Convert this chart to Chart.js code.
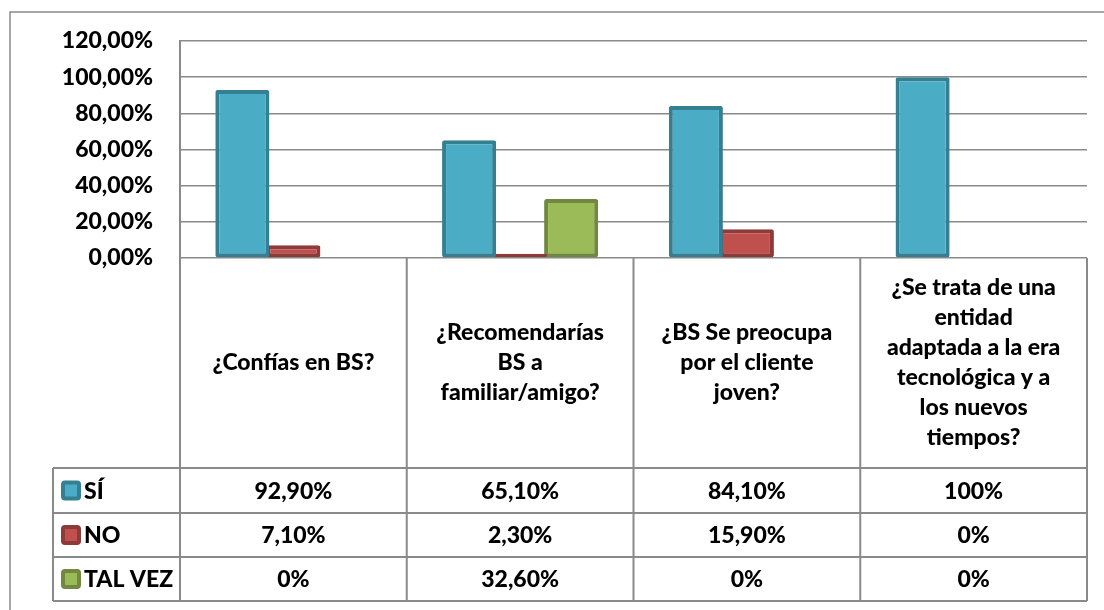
<!DOCTYPE html>
<html lang="es">
<head>
  <meta charset="UTF-8">
  <title>Encuesta BS</title>
  <script src="https://cdn.jsdelivr.net/npm/chart.js"></script>
  <style>
    html, body { margin: 0; padding: 0; background: #fff; }
    #wrap { width: 1104px; height: 610px; position: relative; }
  </style>
</head>
<body>
  <div id="wrap"><canvas id="grafico"></canvas></div>
  <script>
    // preguntas (cada una partida en líneas como en la tabla)
    const preguntas = [
      ['¿Confías en BS?'],
      ['¿Recomendarías', 'BS a', 'familiar/amigo?'],
      ['¿BS Se preocupa', 'por el cliente', 'joven?'],
      ['¿Se trata de una', 'entidad', 'adaptada a la era', 'tecnológica y a', 'los nuevos', 'tiempos?']
    ];
    const series = ['SÍ', 'NO', 'TAL VEZ'];
    const si = [92.9, 65.1, 84.1, 100];
    const no = [7.1, 2.3, 15.9, 0];
    const talVez = [0, 32.6, 0, 0];
    const ticksY = [0, 20, 40, 60, 80, 100, 120];

    const relleno = ['#4BACC6', '#C0504D', '#9BBB59'];
    const borde = ['#357F92', '#8E3A38', '#71893F'];
    const FUENTE = '900 23px Lato';
    const GRIS = '#8a8a8a';

    function fmtEje(v) { return v.toFixed(2).replace('.', ',') + '%'; }
    function fmtTabla(v) {
      return Number.isInteger(v) ? v + '%' : v.toFixed(2).replace('.', ',') + '%';
    }

    // tabla de datos bajo el gráfico, alineada con la escala x
    const tablaDatos = {
      id: 'tablaDatos',
      beforeDraw(chart) {
        const ctx = chart.ctx;
        ctx.save();
        ctx.strokeStyle = GRIS;
        ctx.lineWidth = 1.5;
        ctx.beginPath();
        ctx.moveTo(10, 610); ctx.lineTo(10, 12); ctx.lineTo(1104, 12);
        ctx.stroke();
        ctx.restore();
      },
      afterDraw(chart) {
        const ctx = chart.ctx;
        const x = chart.scales.x;
        const area = chart.chartArea;
        const medio = (x.getPixelForValue(1) - x.getPixelForValue(0)) / 2;
        const filas = [area.bottom, 468, 513, 557, 601];
        const izqLeyenda = 53;
        const datos = [si, no, talVez];

        ctx.save();
        ctx.strokeStyle = GRIS;
        ctx.lineWidth = 2;
        ctx.beginPath();
        // verticales
        ctx.moveTo(area.left, area.bottom); ctx.lineTo(area.left, filas[4]);
        preguntas.forEach((p, i) => {
          const xr = x.getPixelForValue(i) + medio;
          ctx.moveTo(xr, area.bottom); ctx.lineTo(xr, filas[4]);
        });
        ctx.moveTo(izqLeyenda, filas[1]); ctx.lineTo(izqLeyenda, filas[4]);
        // horizontales
        for (let r = 1; r < filas.length; r++) {
          ctx.moveTo(izqLeyenda, filas[r]); ctx.lineTo(area.right, filas[r]);
        }
        ctx.stroke();

        ctx.fillStyle = '#000';
        ctx.font = FUENTE;
        ctx.textAlign = 'center';
        ctx.textBaseline = 'middle';
        const alto = 30;
        preguntas.forEach((lineas, i) => {
          const cx = x.getPixelForValue(i);
          const cy = (filas[0] + filas[1]) / 2;
          const y0 = cy - (lineas.length - 1) * alto / 2;
          lineas.forEach((l, k) => ctx.fillText(l, cx, y0 + k * alto));
        });

        series.forEach((s, r) => {
          const cy = (filas[r + 1] + filas[r + 2]) / 2;
          // clave de leyenda
          ctx.fillStyle = relleno[r];
          ctx.strokeStyle = borde[r];
          ctx.lineWidth = 4;
          ctx.beginPath();
          ctx.roundRect(63, cy - 8, 16, 16, 2);
          ctx.fill();
          ctx.stroke();
          ctx.fillStyle = '#000';
          ctx.textAlign = 'left';
          ctx.fillText(s, 84, cy + 1);
          ctx.textAlign = 'center';
          datos[r].forEach((v, i) => ctx.fillText(fmtTabla(v), x.getPixelForValue(i), cy + 1));
        });
        ctx.restore();
      }
    };

    new Chart(document.getElementById('grafico'), {
      type: 'bar',
      data: {
        labels: preguntas.map(p => p.join(' ')),
        datasets: [si, no, talVez].map((d, i) => ({
          label: series[i],
          data: d,
          backgroundColor: relleno[i],
          borderColor: borde[i],
          borderWidth: 4,
          borderRadius: 2,
          borderSkipped: false,
          categoryPercentage: 0.675,
          barPercentage: 1.06
        }))
      },
      options: {
        responsive: true,
        maintainAspectRatio: false,
        animation: false,
        layout: { padding: { left: 0, top: 41, right: 17, bottom: 352 } },
        plugins: { legend: { display: false }, tooltip: { enabled: false } },
        scales: {
          x: { display: false },
          y: {
            min: 0,
            max: 120,
            afterFit(scale) { scale.width = 180; },
            afterBuildTicks(scale) { scale.ticks = ticksY.map(v => ({ value: v })); },
            grid: { color: GRIS, lineWidth: 1.5, drawTicks: false },
            border: { display: true, color: GRIS, width: 2 },
            ticks: {
              padding: 27,
              color: '#000',
              font: { family: 'Lato', size: 23, weight: 900 },
              callback: v => fmtEje(v)
            }
          }
        }
      },
      plugins: [tablaDatos]
    });
  </script>
</body>
</html>
